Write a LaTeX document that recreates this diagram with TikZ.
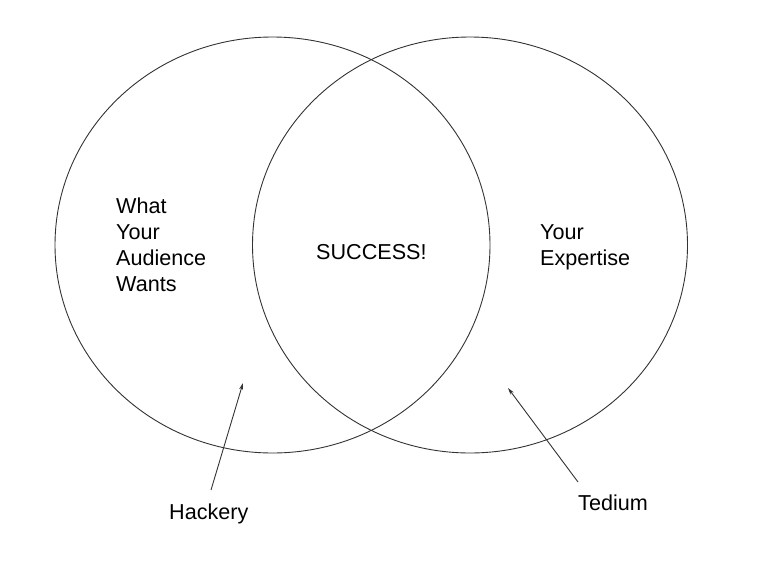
\documentclass[tikz,border=0pt]{standalone}
\usepackage{fontspec}
\setmainfont{Liberation Sans}
\usetikzlibrary{shapes.geometric,arrows.meta}
\begin{document}
\begin{tikzpicture}[x=1pt,y=-1pt,
  venn/.style={ellipse,draw=black!80,line width=0.9pt,minimum width=435pt,minimum height=416pt,inner sep=0pt},
  lbl/.style={anchor=base west,align=left,inner sep=0pt,font=\fontsize{21.6}{26}\selectfont},
  pointer/.style={draw=black!80,line width=0.9pt,-{Stealth[length=7pt,width=4pt]}}]
\useasboundingbox (0,0) rectangle (768,565);
\node[venn] (left) at (272.5,245) {};
\node[venn] (right) at (470,245) {};
\node[lbl] (audience) at (116,291) {What\\Your\\Audience\\Wants};
\node[lbl] (success) at (316,259) {SUCCESS!};
\node[lbl] (expertise) at (540,265) {Your\\Expertise};
\node[lbl] (hackery) at (169,519) {Hackery};
\node[lbl] (tedium) at (578,510) {Tedium};
\coordinate (hackend) at (243,383);
\coordinate (tedend) at (508,388);
\coordinate (hackstart) at (211,490);
\coordinate (tedstart) at (578,482);
\draw[pointer] (hackstart) -- (hackend);
\draw[pointer] (tedstart) -- (tedend);
\end{tikzpicture}
\end{document}
